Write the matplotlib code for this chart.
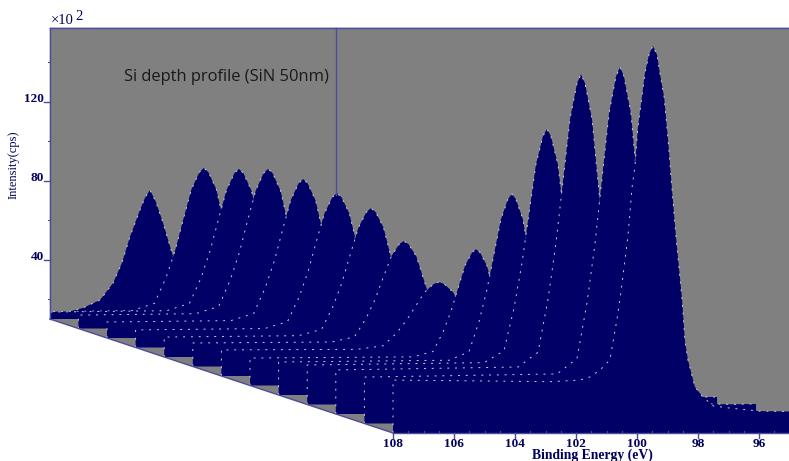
### Si depth profile waterfall (XPS), back spectrum is drawn first
import matplotlib
matplotlib.use('Agg')
import matplotlib.pyplot as plt
from matplotlib.patches import Polygon, Rectangle

# spectra from front (0) to back (14): binding energy in eV, intensity in 10^2 cps
e0 = [108, 102.8, 101.87, 101.54, 101.21, 100.89, 100.66, 100.56, 100.3, 100.16, 100.07, 99.97, 99.84, 99.74, 99.61, 99.48,
      99.34, 99.25, 99.11, 98.98, 98.85, 98.72, 98.52, 98.43, 98.33, 98.1, 97.84, 97.5, 97, 96, 95]
i0 = [36.8, 36, 36.8, 38.4, 41.9, 47, 67.2, 77.3, 109.2, 134.6, 144.7, 164.9, 180.1, 192.3, 201.4, 206,
      201.4, 192.3, 180.1, 158.4, 133, 109.2, 77.3, 57.1, 47, 33.3, 28.2, 23.7, 22.7, 21.1, 20.9]
e1 = [108, 101.68, 101.03, 100.7, 100.44, 100.21, 99.98, 99.75, 99.62, 99.49, 99.26, 99, 98.87, 98.67, 98.47, 98.12, 97, 96, 95.16]
i1 = [33.5, 35.1, 42.9, 71.2, 101, 134, 167, 185.8, 190.5, 185.8, 167, 123, 101, 71.2, 43, 28, 20, 19.7, 19.9]
e2 = [108, 102.02, 101.37, 101.04, 100.78, 100.55, 100.32, 100.09, 99.96, 99.83, 99.6, 99.34, 99.21, 99.01, 98.81, 98.46, 97.5, 96, 95.5]
i2 = [32.3, 33.8, 41.3, 68.2, 96.7, 128.1, 159.5, 177.5, 182, 177.5, 159.5, 117.6, 96.7, 68.2, 41.3, 27, 20, 18.6, 18.6]
e3 = [108, 102.2, 101.55, 101.22, 100.96, 100.73, 100.5, 100.27, 100.14, 100.01, 99.78, 99.52, 99.39, 99.19, 98.99, 98.64, 97, 95.5]
i3 = [30, 31.2, 37.2, 58.7, 81.4, 106.5, 131.6, 145.9, 149.5, 145.9, 131.6, 98.1, 81.4, 58.7, 37.2, 26, 20, 18]
e4 = [108, 102.41, 101.76, 101.43, 101.17, 100.94, 100.71, 100.48, 100.35, 100.22, 99.99, 99.73, 99.6, 99.4, 99.2, 98.85, 97, 95.5]
i4 = [26.7, 27.6, 31.8, 47.1, 63.3, 81.2, 99, 109.2, 111.8, 109.2, 99, 75.2, 63.3, 47.1, 31.8, 24, 19, 18]
e5 = [108, 102.65, 102, 101.67, 101.41, 101.18, 100.95, 100.72, 100.59, 100.46, 100.23, 99.97, 99.84, 99.64, 99.44, 99.09, 97, 95.5]
i5 = [23.9, 24.5, 27.2, 37.1, 47.6, 59.2, 70.7, 77.4, 79, 77.4, 70.7, 55.3, 47.6, 37.1, 27.2, 22, 18, 17]
e6 = [108, 103.55, 102.7, 102.27, 101.94, 101.64, 101.34, 101.04, 100.87, 100.7, 100.4, 100.06, 99.89, 99.63, 99.37, 98.92, 97, 95.5]
i6 = [23.2, 23.5, 25.3, 31.5, 38, 45.2, 52.4, 56.6, 57.6, 56.6, 52.4, 42.8, 38, 31.5, 25.3, 21, 18, 17]
e7 = [108, 103.45, 102.7, 102.32, 102.02, 101.76, 101.49, 101.23, 101.08, 100.93, 100.67, 100.37, 100.22, 99.99, 99.76, 99.35, 97, 95.5]
i7 = [21.9, 22.4, 25, 34.3, 44.1, 54.9, 65.8, 72, 73.5, 72, 65.8, 51.3, 44.1, 34.3, 25, 20, 17, 16]
e8 = [108, 103.59, 102.84, 102.46, 102.16, 101.9, 101.63, 101.37, 101.22, 101.07, 100.81, 100.51, 100.36, 100.13, 99.9, 99.49, 97, 95.5]
i8 = [20.1, 20.8, 24, 35.8, 48.2, 61.9, 75.6, 83.4, 85.4, 83.4, 75.6, 57.3, 48.2, 35.8, 24, 19, 16, 15]
e9 = [108, 103.77, 103.02, 102.64, 102.34, 102.08, 101.81, 101.55, 101.4, 101.25, 100.99, 100.69, 100.54, 100.31, 100.08, 99.67, 97, 95.5]
i9 = [18.9, 19.6, 23.1, 35.5, 48.7, 63.3, 77.8, 86.1, 88.2, 86.1, 77.8, 58.4, 48.7, 35.5, 23.1, 18, 15, 14]
e10 = [108, 103.94, 103.19, 102.81, 102.51, 102.25, 101.98, 101.72, 101.57, 101.42, 101.16, 100.86, 100.71, 100.48, 100.25, 99.84, 97, 95.5]
i10 = [18.1, 18.8, 22.4, 35.5, 49.2, 64.4, 79.6, 88.3, 90.5, 88.3, 79.6, 59.4, 49.2, 35.5, 22.4, 17, 14, 13]
e11 = [108, 104.15, 103.4, 103.02, 102.72, 102.46, 102.19, 101.93, 101.78, 101.63, 101.37, 101.07, 100.92, 100.69, 100.46, 100.05, 97, 95.5]
i11 = [16.8, 17.5, 21.2, 34.6, 48.6, 64.2, 79.7, 88.6, 90.8, 88.6, 79.7, 59, 48.6, 34.6, 21.2, 16, 13, 12]
e12 = [108, 104.17, 103.42, 103.04, 102.74, 102.48, 102.21, 101.95, 101.8, 101.65, 101.39, 101.09, 100.94, 100.71, 100.48, 100.07, 97, 95.5]
i12 = [13.5, 14.2, 17.9, 30.9, 44.7, 59.9, 75.1, 83.8, 86, 83.8, 75.1, 54.8, 44.7, 30.9, 17.9, 14, 12, 11]
e13 = [108, 104.38, 103.63, 103.25, 102.95, 102.69, 102.42, 102.16, 102.01, 101.86, 101.6, 101.3, 101.15, 100.92, 100.69, 100.28, 97, 95.5]
i13 = [13.5, 14.2, 17.9, 31, 44.9, 60.2, 75.6, 84.3, 86.5, 84.3, 75.6, 55.1, 44.9, 31, 17.9, 14, 12, 11]
e14 = [108, 105.56, 105.04, 104.48, 104.05, 103.76, 103.5, 103.17, 103, 102.84, 102.65, 102.41, 102.02, 101.64, 101.24, 100.6, 97, 95.5]
i14 = [13.5, 13.5, 15.6, 19.6, 28.2, 38.4, 51.5, 65.2, 71.5, 75.3, 69.5, 58.6, 38.4, 22, 15, 13, 12, 11]

energies = [e0, e1, e2, e3, e4, e5, e6, e7, e8, e9, e10, e11, e12, e13, e14]
intensities = [i0, i1, i2, i3, i4, i5, i6, i7, i8, i9, i10, i11, i12, i13, i14]

x_ticks = [108, 106, 104, 102, 100, 98, 96]
x_minor = [107.5, 107, 106.5, 105.5, 105, 104.5, 103.5, 103, 102.5, 101.5, 101, 100.5,
           99.5, 99, 98.5, 97.5, 97, 96.5, 95.5]
y_ticks = [40, 80, 120]
y_minor = [20, 60, 100, 140]

NAVY = '#000066'
GRAY = '#808080'
AXIS = '#4c4c9c'
TEXT = '#00005a'

# waterfall offsets, per spectrum going back
STEP_X = 28.6 / 30.5
STEP_Y = 9.5 / 1.975
STEPS_TO_WALL = 12
FLOOR = 10
TOP = 157.5

# plot scales: 30.5 px per eV and 1.975 px per unit
fig = plt.figure(figsize=(7.89, 4.61), dpi=100)
ax = fig.add_axes([0, 0, 1, 1])
x_left = 108 + 393 / 30.5
x_right = 108 - 396 / 30.5
ax.set_xlim(x_left, x_right)
ax.set_ylim(FLOOR + (319 - 461) / 1.975, FLOOR + 319 / 1.975)
ax.axis('off')

wall_x = 108 + STEPS_TO_WALL * STEP_X
front_y = FLOOR - STEPS_TO_WALL * STEP_Y

ax.add_patch(Polygon([(wall_x, TOP), (x_right, TOP), (x_right, front_y), (108, front_y), (wall_x, FLOOR)],
                     closed=True, fc=GRAY, ec='none', zorder=1))
clip = Rectangle((x_right, front_y), wall_x - x_right, TOP - front_y, transform=ax.transData)

# back to front so that each spectrum hides the one behind it
for k in range(len(energies) - 1, -1, -1):
    shift_x = k * STEP_X
    shift_y = (STEPS_TO_WALL - min(k, STEPS_TO_WALL)) * STEP_Y
    xs = [e + shift_x for e in energies[k]]
    ys = [v - shift_y for v in intensities[k]]
    floor_y = FLOOR - shift_y
    z = 3 - k * 0.01
    poly = ax.fill([xs[0]] + xs + [xs[-1]], [floor_y] + ys + [floor_y], color=NAVY, lw=0, zorder=z)
    poly[0].set_clip_path(clip)
    line, = ax.plot([xs[0]] + xs, [floor_y] + ys, color='#cfcfdf', lw=0.7, ls=(0, (2, 6)), zorder=z + 0.001)
    line.set_clip_path(clip)

# axes lines
ax.plot([wall_x, x_right], [TOP, TOP], color=AXIS, lw=1, zorder=8, clip_on=False)
ax.plot([wall_x, wall_x], [FLOOR, TOP], color=AXIS, lw=1, zorder=8)
ax.plot([wall_x, 108], [FLOOR, front_y], color=AXIS, lw=1, zorder=8)
ax.plot([108, x_right], [front_y, front_y], color=AXIS, lw=1, zorder=8)

# cursor line over the wall
cursor_x = 108 + (393 - 336) / 30.5
ax.plot([cursor_x, cursor_x], [TOP, 73], color=AXIS, lw=1, zorder=8)

for t in x_ticks:
    ax.plot([t, t], [front_y, front_y - 2.5], color=AXIS, lw=1, zorder=8)
    ax.text(t, front_y - 5.7, str(t), ha='center', va='center', fontsize=9.5, color=TEXT,
            family='Liberation Serif', fontweight='bold')
for t in x_minor:
    ax.plot([t, t], [front_y, front_y + 1], color=AXIS, lw=0.8, zorder=8)

for t in y_ticks:
    ax.plot([wall_x, wall_x + 0.2], [t, t], color=AXIS, lw=1, zorder=8)
    ax.text(wall_x + 0.2, t + 1.2, str(t), ha='right', va='center', fontsize=9.5, color=TEXT,
            family='Liberation Serif', fontweight='bold')
for t in y_minor:
    ax.plot([wall_x, wall_x + 0.07], [t, t], color=AXIS, lw=0.8, zorder=8)

ax.text(wall_x - 0.02, TOP + 0.2, '×10', ha='left', va='bottom', fontsize=10.5, color=TEXT,
        family='Liberation Serif')
ax.text(wall_x - 0.84, TOP + 2.6, '2', ha='left', va='bottom', fontsize=10.5, color=TEXT,
        family='Liberation Serif')
ax.text(x_left - 14 / 30.5, 88, 'Intensity(cps)', rotation=90, ha='center', va='center',
        fontsize=9, color=TEXT, family='Liberation Serif')
ax.text(101.45, front_y - 11.4, 'Binding Energy (eV)', ha='center', va='center', fontsize=9.8,
        color=TEXT, family='Liberation Serif', fontweight='bold')
ax.text(108 + (393 - 124) / 30.5, 132.5, 'Si depth profile (SiN 50nm)', ha='left', va='center',
        fontsize=11.9, color='#1a1a1a', family='Open Sans', zorder=9)

fig.savefig('out.png', dpi=100)
